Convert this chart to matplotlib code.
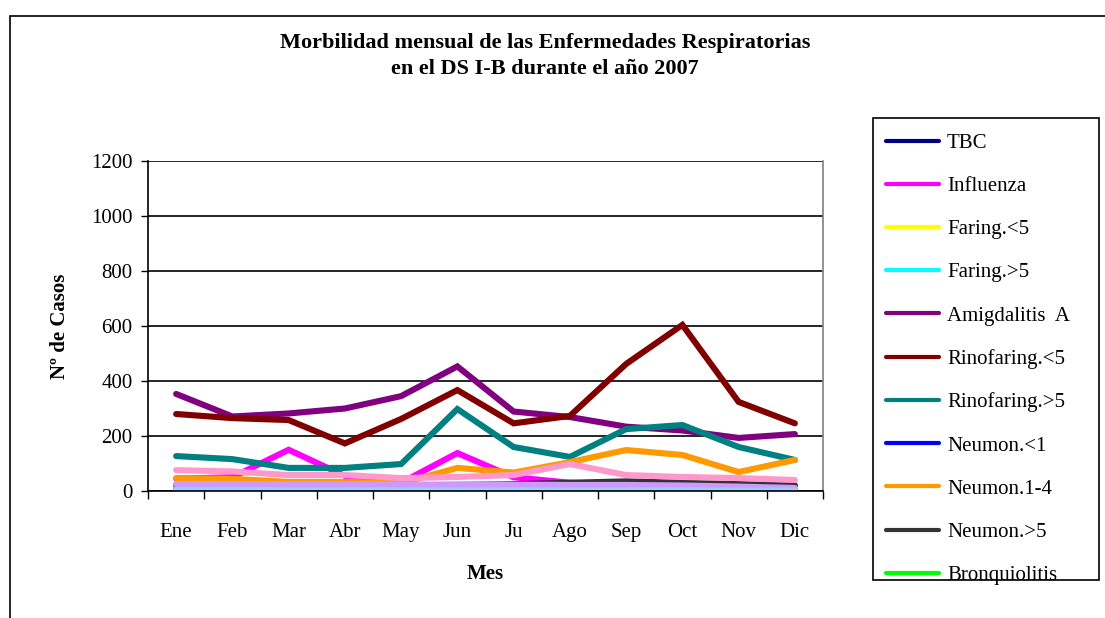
import matplotlib
matplotlib.use("Agg")
import matplotlib.pyplot as plt
from matplotlib.patches import Rectangle

plt.rcParams['font.family'] = ['Liberation Serif', 'DejaVu Serif']

months = ["Ene", "Feb", "Mar", "Abr", "May", "Jun", "Ju", "Ago", "Sep", "Oct", "Nov", "Dic"]

tbc = [2, 1, 2, 1, 2, 1, 2, 1, 2, 1, 1, 1]
influenza = [45, 50, 150, 55, 30, 138, 50, 30, 25, 25, 20, 20]
faring_lt5 = [5, 4, 5, 4, 5, 4, 5, 4, 5, 4, 4, 4]
faring_gt5 = [6, 5, 6, 5, 6, 5, 6, 5, 6, 5, 5, 5]
amigdalitis = [353, 271, 282, 300, 345, 453, 289, 269, 234, 220, 193, 207]
rinofaring_lt5 = [280, 265, 258, 173, 262, 367, 246, 273, 462, 604, 324, 246]
rinofaring_gt5 = [127, 116, 84, 84, 98, 298, 160, 124, 225, 240, 160, 113]
neumon_lt1 = [3, 3, 3, 3, 3, 3, 3, 3, 3, 3, 3, 3]
neumon_1_4 = [47, 44, 33, 33, 28, 84, 67, 105, 149, 131, 69, 113]
neumon_gt5 = [20, 20, 20, 20, 20, 22, 25, 30, 35, 30, 25, 20]
bronquiolitis = [5, 4, 4, 4, 4, 4, 4, 4, 4, 4, 4, 4]
serie_rosa = [76, 71, 58, 58, 47, 51, 58, 98, 58, 51, 47, 40]
serie_lila = [25, 25, 24, 24, 23, 24, 23, 22, 22, 20, 16, 11]
serie_celeste = [4, 4, 3, 3, 3, 3, 3, 3, 3, 3, 2, 2]

series = [
    ("TBC", tbc, "#000080"),
    ("Influenza", influenza, "#FF00FF"),
    ("Faring.<5", faring_lt5, "#FFFF00"),
    ("Faring.>5", faring_gt5, "#00FFFF"),
    ("Amigdalitis  A", amigdalitis, "#800080"),
    ("Rinofaring.<5", rinofaring_lt5, "#800000"),
    ("Rinofaring.>5", rinofaring_gt5, "#008080"),
    ("Neumon.<1", neumon_lt1, "#0000FF"),
    ("Neumon.1-4", neumon_1_4, "#FF9900"),
    ("Neumon.>5", neumon_gt5, "#333333"),
    ("Bronquiolitis", bronquiolitis, "#00FF00"),
    ("_rosa", serie_rosa, "#FF99CC"),
    ("_lila", serie_lila, "#CC99FF"),
    ("_celeste", serie_celeste, "#99CCFF"),
]

fig = plt.figure(figsize=(11.05, 6.18), dpi=100)
ax = fig.add_axes([148/1105, 1-491/618, 675/1105, 330/618])

x = list(range(len(months)))
handles = []
for name, vals, col in series:
    ln, = ax.plot(x, vals, color=col, lw=4.4, solid_joinstyle='miter', solid_capstyle='round', label=name)
    if not name.startswith("_"):
        handles.append(ln)

ax.set_xlim(-0.5, 11.5)
ax.set_ylim(0, 1200)
ax.set_yticks(range(0, 1201, 200))
ax.set_xticks(x)
ax.set_xticklabels(months)
ax.set_xticks([i - 0.5 for i in range(13)], minor=True)
ax.tick_params(axis='x', which='major', length=0, pad=23, labelsize=15)
ax.tick_params(axis='x', which='minor', length=6, width=1, direction='out')
ax.tick_params(axis='y', length=5, width=1, direction='out', labelsize=15, pad=6)
ax.grid(axis='y', color='black', lw=1.2)
ax.set_axisbelow(True)
for s in ['left', 'bottom']:
    ax.spines[s].set_color('black')
    ax.spines[s].set_linewidth(1.2)
ax.spines['top'].set_visible(False)
ax.spines['right'].set_color('#808080')
ax.spines['right'].set_linewidth(1.2)

ax.set_xlabel("Mes", fontsize=15, fontweight='bold', labelpad=16)
ax.set_ylabel("Nº de Casos", fontsize=15, fontweight='bold', labelpad=15)

fig.text(0.493, 1-56/618, "Morbilidad mensual de las Enfermedades Respiratorias\nen el DS I-B durante el año 2007",
         ha='center', va='center', fontsize=16, fontweight='bold', linespacing=1.4)

leg = fig.legend(handles=handles, loc='upper left', bbox_to_anchor=(873/1105, 1-121/618),
                 fontsize=15, frameon=False,
                 handlelength=2.55, labelspacing=1.13, borderpad=0.6, handletextpad=0.4,
                 borderaxespad=0)
for lh in leg.get_lines():
    lh.set_linewidth(3.0)

fig.patches.append(Rectangle((873/1105, 1-580/618), 226/1105, 462/618, transform=fig.transFigure,
                             fill=False, edgecolor='black', lw=1.2))
fig.patches.append(Rectangle((10/1105, -0.1), 1.2, 1-16/618+0.1, transform=fig.transFigure,
                             fill=False, edgecolor='black', lw=1.2))

fig.savefig("out.png", dpi=100)
